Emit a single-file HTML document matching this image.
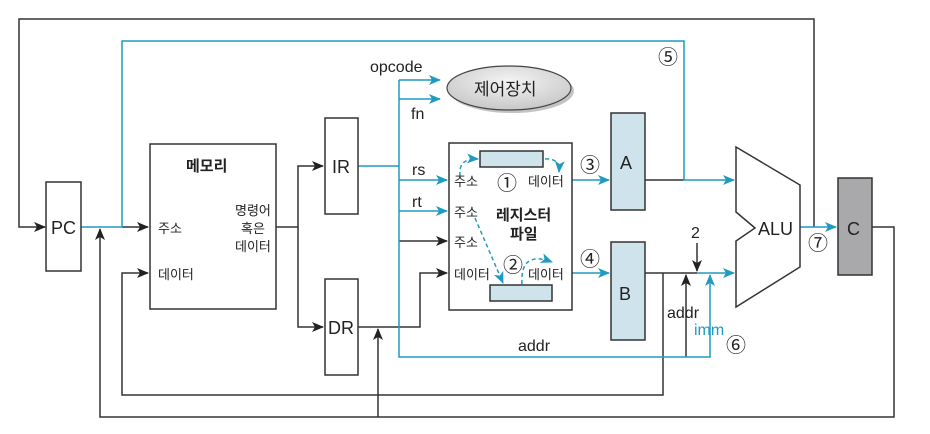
<!DOCTYPE html>
<html><head><meta charset="utf-8"><style>
body{margin:0;background:#fff;}
text{font-family:"Liberation Sans","Noto Sans CJK KR",sans-serif;fill:#222;}
.k{font-family:"Noto Sans CJK KR","NanumGothic",sans-serif;}
</style></head><body>
<svg width="930" height="429" viewBox="0 0 930 429" xmlns="http://www.w3.org/2000/svg">
<defs>
<marker id="ak" markerWidth="12" markerHeight="10" refX="11" refY="5" orient="auto" markerUnits="userSpaceOnUse"><path d="M0,0 L12,5 L0,10 L3,5z" fill="#222"/></marker>
<marker id="ab" markerWidth="12" markerHeight="10" refX="11" refY="5" orient="auto" markerUnits="userSpaceOnUse"><path d="M0,0 L12,5 L0,10 L3,5z" fill="#1f9bbf"/></marker>
<radialGradient id="og" cx="50%" cy="35%" r="70%"><stop offset="0" stop-color="#f4f4f4"/><stop offset="1" stop-color="#c4c4c6"/></radialGradient>
</defs>
<g fill="none" stroke-width="1.5">
<g stroke="#333">
<path d="M814,227 V19 H19 V227 H45" marker-end="url(#ak)"/>
<path d="M872,227 H894 V417 H100 V229" marker-end="url(#ak)"/>
<path d="M378,417 V329" marker-end="url(#ak)"/>
<path d="M122,227 H148" marker-end="url(#ak)"/>
<path d="M663,273 V395 H122 V273 H148" marker-end="url(#ak)"/>
<path d="M276,227 H298 V166 H323" marker-end="url(#ak)"/>
<path d="M298,227 V327 H323" marker-end="url(#ak)"/>
<path d="M358,327 H420 V273 H447" marker-end="url(#ak)"/>
<path d="M399,241 H447" marker-end="url(#ak)"/>
<path d="M645,180 H684"/>
<path d="M645,273 H697"/>
<path d="M697,243 V271" marker-end="url(#ak)"/>
<path d="M686,357 V275" marker-end="url(#ak)"/>
</g>
<g stroke="#1f9bbf">
<path d="M81,227 H122 V41 H684 V180 H734" marker-end="url(#ab)"/>
<path d="M358,166 H399"/>
<path d="M399,80 V357 H710 V275" marker-end="url(#ab)"/>
<path d="M399,80 H440" marker-end="url(#ab)"/>
<path d="M399,99 H440" marker-end="url(#ab)"/>
<path d="M399,180 H447" marker-end="url(#ab)"/>
<path d="M399,211 H447" marker-end="url(#ab)"/>
<path d="M697,273 H734" marker-end="url(#ab)"/>
<path d="M572,180 H609" marker-end="url(#ab)"/>
<path d="M572,273 H609" marker-end="url(#ab)"/>
<path d="M800,227 H836" marker-end="url(#ab)"/>
</g>
</g>
<g stroke="#333" stroke-width="1.5">
<rect x="46" y="182" width="35" height="89" fill="#fff"/>
<rect x="150" y="144" width="126" height="165" fill="#fff"/>
<rect x="325" y="118" width="33" height="96" fill="#fff"/>
<rect x="325" y="279" width="33" height="96" fill="#fff"/>
<rect x="449" y="143" width="123" height="167" fill="#fff"/>
<rect x="480" y="151" width="63" height="16" fill="#cfe3ec"/>
<rect x="490" y="285" width="62" height="16" fill="#cfe3ec"/>
<rect x="611" y="113" width="34" height="97" fill="#cfe3ec"/>
<rect x="611" y="242" width="34" height="98" fill="#cfe3ec"/>
<rect x="838" y="178" width="34" height="97" fill="#a9a9ab"/>
<polygon points="736,147 800,185 800,267 736,307 736,241 755,228 736,212" fill="#fff"/>
</g>
<g fill="none" stroke="#1f9bbf" stroke-width="1.5" stroke-dasharray="4,3">
<path d="M460,176 Q458,158 478,159" marker-end="url(#ab)"/>
<path d="M545,159 Q560,158 559,172" marker-end="url(#ab)"/>
<path d="M475,218 L503,283" marker-end="url(#ab)"/>
<path d="M522,284 Q520,250 552,262" marker-end="url(#ab)"/>
</g>
<ellipse cx="512" cy="91" rx="62" ry="22" fill="#888" opacity="0.5"/>
<ellipse cx="509" cy="88" rx="62" ry="22" fill="url(#og)" stroke="#444" stroke-width="1.2"/>
<g font-size="18">
<text x="51" y="234">PC</text>
<text x="332" y="173">IR</text>
<text x="328" y="334">DR</text>
<text x="620" y="169">A</text>
<text x="619" y="300">B</text>
<text x="847" y="235">C</text>
<text x="758" y="235">ALU</text>
</g>
<g font-size="16">
<text x="370" y="72">opcode</text>
<text x="411" y="119">fn</text>
<text x="412" y="175">rs</text>
<text x="412" y="207">rt</text>
<text x="518" y="351">addr</text>
<text x="667" y="318">addr</text>
<text x="694" y="335" style="fill:#1f9bbf">imm</text>
<text x="691" y="238">2</text>
</g>
<g font-size="20">
<text x="658" y="64">⑤</text>
<text x="808" y="250">⑦</text>
<text x="726" y="352">⑥</text>
<text x="580" y="172">③</text>
<text x="580" y="266">④</text>
<text x="497" y="190">①</text>
<text x="503" y="272">②</text>
</g>
<g class="k" font-size="13">
<text x="186" y="171" font-weight="bold" font-size="15" class="k">메모리</text>
<text x="158" y="233" class="k">주소</text>
<text x="158" y="279" class="k">데이터</text>
<text x="235" y="215" class="k">명령어</text>
<text x="241" y="233" class="k">혹은</text>
<text x="235" y="251" class="k">데이터</text>
<text x="454" y="186" class="k">주소</text>
<text x="454" y="217" class="k">주소</text>
<text x="454" y="247" class="k">주소</text>
<text x="454" y="279" class="k">데이터</text>
<text x="528" y="186" class="k">데이터</text>
<text x="528" y="279" class="k">데이터</text>
<text x="496" y="220" font-weight="bold" font-size="15" class="k">레지스터</text>
<text x="510" y="239" font-weight="bold" font-size="15" class="k">파일</text>
<text x="474" y="95" font-size="17" class="k">제어장치</text>
</g>
</svg>
</body></html>
